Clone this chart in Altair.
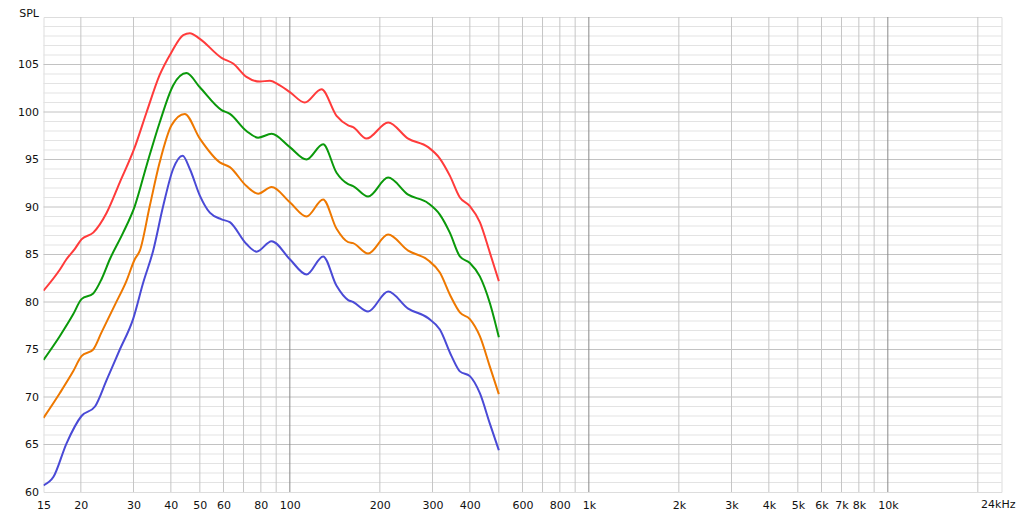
import altair as alt
import pandas as pd

# ---- data (frequency in Hz, SPL in dB) ----
red_freq = [15, 17.0, 17.9, 19.1, 20.1, 22.0, 24.4, 27.0, 30.3, 33.2, 36.7, 40.2, 44.0, 46.3, 50.0,
            59.1, 64.6, 71.6, 79.4, 85.7, 92.6, 100, 112.2, 127.6, 143.3, 156.7, 162.8, 180.5,
            213.2, 248.7, 290.1, 317.5, 342.8, 370.4, 400, 432, 466.6, 500]
red_spl = [81.2, 83.4, 84.5, 85.6, 86.6, 87.3, 89.4, 92.6, 96.3, 100.0, 103.9, 106.3, 108.1, 108.3, 107.7,
           105.7, 105.1, 103.7, 103.2, 103.3, 102.8, 102.1, 101.0, 102.4, 99.6, 98.6, 98.4, 97.2,
           98.9, 97.2, 96.3, 95.1, 93.3, 91.0, 90.1, 88.4, 85.2, 82.2]

green_freq = [15, 17.0, 18.85, 20.1, 22.0, 23.45, 25.0, 27.7, 30.3, 33.2, 36.7, 40.7, 45.1, 50.0,
              59.1, 63.0, 71.6, 78.3, 86.9, 100, 113.7, 129.2, 143.3, 156.7, 162.8, 182.7,
              213.2, 248.7, 290.1, 317.5, 342.8, 370.4, 400, 432, 466.6, 500]
green_spl = [73.9, 76.4, 78.7, 80.3, 80.9, 82.4, 84.5, 87.3, 90.1, 94.4, 98.9, 102.8, 104.1, 102.6,
             100.2, 99.8, 98.0, 97.3, 97.7, 96.3, 95.0, 96.6, 93.6, 92.4, 92.2, 91.1,
             93.1, 91.3, 90.4, 89.2, 87.3, 84.8, 84.1, 82.7, 79.9, 76.3]

orange_freq = [15, 17.0, 18.85, 20.1, 22.0, 23.45, 26.0, 28.4, 30.3, 31.5, 34.0, 36.7, 40.2, 44.5, 50.0,
               58.3, 63.0, 71.6, 78.3, 86.9, 100, 113.7, 129.2, 143.3, 156.7, 162.8, 182.7,
               213.2, 248.7, 290.1, 317.5, 345.0, 370.4, 400, 432, 466.6, 500]
orange_spl = [67.8, 70.4, 72.7, 74.3, 75.0, 76.8, 79.7, 82.2, 84.5, 85.4, 90.1, 94.7, 98.6, 99.8, 97.2,
              94.7, 94.2, 92.2, 91.4, 92.1, 90.5, 89.0, 90.8, 87.7, 86.3, 86.2, 85.1,
              87.1, 85.4, 84.4, 83.1, 80.6, 78.9, 78.2, 76.4, 73.2, 70.3]

blue_freq = [15, 16.2, 17.9, 20.1, 22.3, 24.4, 27.0, 29.9, 32.3, 34.9, 37.7, 40.7, 43.8, 46.3, 50.0,
             54.0, 59.1, 63.0, 71.6, 77.4, 86.9, 100, 113.7, 129.2, 143.3, 156.7, 162.8, 182.7,
             213.2, 248.7, 290.1, 317.5, 347.4, 370.4, 400, 432, 466.6, 500]
blue_spl = [60.7, 61.6, 65.1, 68.0, 69.0, 71.8, 75.0, 78.2, 82.0, 85.4, 90.1, 94.0, 95.4, 94.0, 91.2,
            89.4, 88.7, 88.4, 86.1, 85.3, 86.4, 84.5, 82.9, 84.8, 81.7, 80.2, 80.0, 79.0,
            81.1, 79.3, 78.3, 77.1, 74.3, 72.7, 72.2, 70.4, 67.2, 64.4]

series_colors = ["#ff3b3b", "#0b990b", "#ee7800", "#4a4ad6"]

x_tick_values = [15, 20, 30, 40, 50, 60, 80, 100, 200, 300, 400, 600, 800, 1000, 2000, 3000,
                 4000, 5000, 6000, 7000, 8000, 10000]
end_label_freq = [24000]
end_label_text = ["24kHz"]
y_tick_values = [60, 65, 70, 75, 80, 85, 90, 95, 100, 105]

x_minor_grid = [20, 30, 40, 50, 60, 70, 80, 90, 200, 300, 400, 500, 600, 700, 800, 900,
                2000, 3000, 4000, 5000, 6000, 7000, 8000, 9000, 20000]
x_decade_grid = [100, 1000, 10000]
y_major_grid = [65, 70, 75, 80, 85, 90, 95, 100, 105]
y_minor_grid = [v for v in range(61, 110) if v % 5 != 0]

# ---- chart ----
W, H = 958, 475
FONT = "DejaVu Sans"
xscale = alt.Scale(type="log", domain=[15, 24000], nice=False)
yscale = alt.Scale(domain=[60, 110], nice=False, zero=False)

x_axis = alt.Axis(values=x_tick_values,
                  labelExpr="datum.value >= 1000 ? (datum.value / 1000) + 'k' : '' + datum.value",
                  grid=False, ticks=False, domain=False, labelFont=FONT, labelFontSize=11,
                  labelColor="#111111", labelPadding=7, labelOverlap=False, labelFlush=False, title="")
y_axis = alt.Axis(values=y_tick_values, grid=False, ticks=False, domain=False, labelFont=FONT,
                  labelFontSize=11, labelColor="#111111", labelPadding=5, labelOverlap=False,
                  title="SPL", titleAngle=0, titleAlign="right", titleBaseline="alphabetic",
                  titleX=-5, titleY=-1, titleFont=FONT, titleFontSize=11, titleFontWeight="normal",
                  titleColor="#111111")

X = lambda: alt.X("freq:Q", scale=xscale, axis=x_axis)
Y = lambda: alt.Y("spl:Q", scale=yscale, axis=y_axis)

ymin_grid = alt.Chart(pd.DataFrame({"spl": y_minor_grid})).mark_rule(
    color="#e3e3e3", strokeWidth=1).encode(y=Y())
ymaj_grid = alt.Chart(pd.DataFrame({"spl": y_major_grid})).mark_rule(
    color="#c2c2c2", strokeWidth=1).encode(y=Y())
xmin_grid = alt.Chart(pd.DataFrame({"freq": x_minor_grid})).mark_rule(
    color="#c6c6c6", strokeWidth=1).encode(x=X())
xdec_grid = alt.Chart(pd.DataFrame({"freq": x_decade_grid})).mark_rule(
    color="#8a8a8a", strokeWidth=1).encode(x=X())

layers = [ymin_grid, ymaj_grid, xmin_grid, xdec_grid]
for fr, sp, col in [(blue_freq, blue_spl, series_colors[3]),
                    (orange_freq, orange_spl, series_colors[2]),
                    (green_freq, green_spl, series_colors[1]),
                    (red_freq, red_spl, series_colors[0])]:
    df = pd.DataFrame({"freq": fr, "spl": sp})
    layers.append(alt.Chart(df).mark_line(color=col, strokeWidth=2, interpolate="monotone",
                                          clip=True).encode(x=X(), y=Y()))

end_label = alt.Chart(pd.DataFrame({"freq": end_label_freq, "label": end_label_text})).mark_text(
    align="right", baseline="top", dx=14, font=FONT, fontSize=11, color="#111111"
).encode(x=X(), y=alt.value(H + 7), text="label:N")
layers.append(end_label)

chart = alt.layer(*layers).properties(
    width=W, height=H,
    autosize=alt.AutoSizeParams(type="none"),
    padding={"left": 35.5, "top": 9, "right": 14.5, "bottom": 17},
).configure_view(stroke="#b8b8b8", strokeWidth=3).configure(background="white")

chart.save("out.html", embed_options={"renderer": "svg", "actions": False})
